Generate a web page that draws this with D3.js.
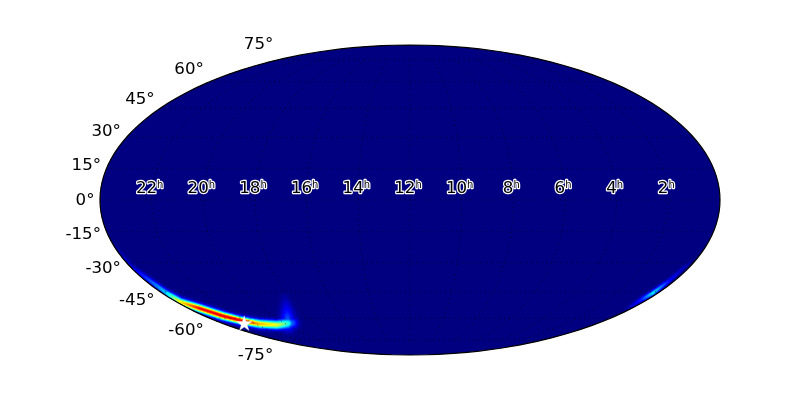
<!DOCTYPE html>
<html>
<head>
<meta charset="utf-8">
<script src="https://cdn.jsdelivr.net/npm/d3@7/dist/d3.min.js"></script>
<style>
html,body{margin:0;padding:0;background:#fff;width:800px;height:400px;overflow:hidden}
#wrap{position:relative;width:800px;height:400px}
canvas,svg{position:absolute;left:0;top:0}
text{font-family:"DejaVu Sans",sans-serif}
</style>
</head>
<body>
<div id="wrap"><canvas id="map" width="800" height="400"></canvas><svg id="over" width="800" height="400"></svg></div>
<script>
// Right-ascension hour labels and declination tick labels
const raHours = [22,20,18,16,14,12,10,8,6,4,2];
const decTicks = [75,60,45,30,15,0,-15,-30,-45,-60,-75];

// Probability ridge on the left (wraps to 24h): [RA h, Dec deg]
const mainRidgeRa  = [23.97,23.93,23.78,23.82,23.39,22.91,22.35,21.68,20.70,19.83,19.50];
const mainRidgeDec = [-22.0,-32.7,-45.1,-50.6,-54.2,-58.7,-61.7,-63.6,-64.2,-63.3,-63.0];
const mainPeak     = [0.02,0.08,0.32,0.64,0.88,0.90,0.88,0.70,0.60,0.42,0.22];
const mainSigma    = [1.5,1.7,2.2,2.6,2.6,2.6,2.5,2.8,3.0,3.6,4.0];

// Faint plume rising from the end of the ridge
const plumeRa    = [18.24,18.89,19.82];
const plumeDec   = [-48.3,-56.3,-63.3];
const plumePeak  = [0.03,0.14,0.25];
const plumeSigma = [3.5,4.5,5.0];

// Tail of the ridge on the right-hand limb (near 0h)
const tailRa    = [0.17,0.25,0.24,0.30,0.18];
const tailDec   = [-29.7,-38.8,-45.7,-49.4,-55.0];
const tailPeak  = [0.03,0.12,0.36,0.16,0.02];
const tailSigma = [1.2,1.5,1.8,1.8,1.2];

// Injection star
const starRa = [22.69];
const starDec = [-63.6];

// Mollweide raw projection
function mollweideRaw(l, p){
  let t = p;
  const target = Math.PI * Math.sin(p);
  for(let i=0;i<40;i++){
    const d = (2*t + Math.sin(2*t) - target) / (2 + 2*Math.cos(2*t) + 1e-12);
    t -= d;
    if(Math.abs(d) < 1e-9) break;
  }
  return [2*Math.SQRT2/Math.PI * l * Math.cos(t), Math.SQRT2 * Math.sin(t)];
}
mollweideRaw.invert = function(x, y){
  const t = Math.asin(y/Math.SQRT2);
  return [Math.PI*x/(2*Math.SQRT2*Math.cos(t)), Math.asin((2*t+Math.sin(2*t))/Math.PI)];
};

const cx=410, cy=200, rx=310;
const projection = d3.geoProjection(mollweideRaw)
  .scale(rx/(2*Math.SQRT2)).translate([cx,cy]).rotate([0,0]).precision(0.1);
const path = d3.geoPath(projection);
const raToLon = h => -(h-12)*15;
const pt = (h,d) => projection([raToLon(h),d]);

const jet = d3.scaleLinear()
  .domain([0,0.125,0.375,0.625,0.875,1])
  .range(["#000080","#0000ff","#00ffff","#ffff00","#ff0000","#800000"]);

// canvas heat map
const ctx = document.getElementById('map').getContext('2d');
ctx.save();
ctx.beginPath();
d3.geoPath(projection, ctx)({type:"Sphere"});
ctx.fillStyle = jet(0);
ctx.fill();
ctx.clip();

function buildRidge(ra,dec,peak,sigma){
  return ra.map((h,i)=>{const p=pt(h,dec[i]);return {x:p[0],y:p[1],peak:peak[i],sigma:sigma[i]};});
}
const ridges = [
  buildRidge(mainRidgeRa,mainRidgeDec,mainPeak,mainSigma),
  buildRidge(plumeRa,plumeDec,plumePeak,plumeSigma),
  buildRidge(tailRa,tailDec,tailPeak,tailSigma)
];
function ridgeValue(r,x,y){
  let best=0;
  for(let i=0;i<r.length-1;i++){
    const a=r[i],b=r[i+1];
    const dx=b.x-a.x,dy=b.y-a.y;
    let t=((x-a.x)*dx+(y-a.y)*dy)/(dx*dx+dy*dy);
    t=Math.max(0,Math.min(1,t));
    const px=a.x+t*dx,py=a.y+t*dy;
    const s=a.sigma+t*(b.sigma-a.sigma), k=a.peak+t*(b.peak-a.peak);
    const d2=(x-px)*(x-px)+(y-py)*(y-py);
    const v=k*Math.exp(-d2/(2*s*s));
    if(v>best)best=v;
  }
  return best;
}
for(const r of ridges){
  const x0=Math.floor(d3.min(r,d=>d.x))-22,x1=Math.ceil(d3.max(r,d=>d.x))+22;
  const y0=Math.floor(d3.min(r,d=>d.y))-22,y1=Math.ceil(d3.max(r,d=>d.y))+22;
  for(let y=y0;y<y1;y++)for(let x=x0;x<x1;x++){
    const v=d3.max(ridges,q=>ridgeValue(q,x+.5,y+.5));
    if(v>0.004){ctx.fillStyle=jet(v);ctx.fillRect(x,y,1,1);}
  }
}
ctx.restore();

// svg overlay
const svg = d3.select('#over');
const graticule = d3.geoGraticule().extent([[-180,-75.001],[180,75.001]]).step([30,15]);
svg.append('path').datum(graticule())
  .attr('d',path).attr('fill','none').attr('stroke','#000')
  .attr('stroke-width',0.8).attr('stroke-dasharray','1 4').attr('opacity',0.8);
svg.append('path').datum({type:"Sphere"})
  .attr('d',path).attr('fill','none').attr('stroke','#000').attr('stroke-width',1.2);

// declination labels
svg.selectAll('text.dec').data(decTicks).join('text')
  .attr('class','dec')
  .attr('x',d=>projection([-179.999,d])[0]-5.5)
  .attr('y',d=>projection([-179.999,d])[1]-1-d*0.2+5.5)
  .attr('text-anchor','end')
  .attr('font-size',16.67)
  .attr('fill','#000')
  .text(d=>d+'°');

// RA labels
const raLabel = svg.selectAll('text.ra').data(raHours).join('text')
  .attr('class','ra')
  .attr('x',d=>pt(d,0)[0]-2)
  .attr('y',d=>pt(d,0)[1]-7)
  .attr('text-anchor','middle')
  .attr('font-size',16.67)
  .attr('fill','#000')
  .attr('stroke','#fff').attr('stroke-width',2.4).attr('stroke-linejoin','round')
  .style('paint-order','stroke');
raLabel.append('tspan').text(d=>d);
raLabel.append('tspan').attr('font-size',10).attr('dy',-5).text('h');

// star
svg.selectAll('path.star').data(starRa).join('path')
  .attr('class','star')
  .attr('transform',(d,i)=>{const p=pt(d,starDec[i]);return `translate(${p[0]},${p[1]})`;})
  .attr('d',d3.symbol(d3.symbolStar,75)())
  .attr('fill','#fff').attr('stroke','#ddd').attr('stroke-width',0.4);
</script>
</body>
</html>
